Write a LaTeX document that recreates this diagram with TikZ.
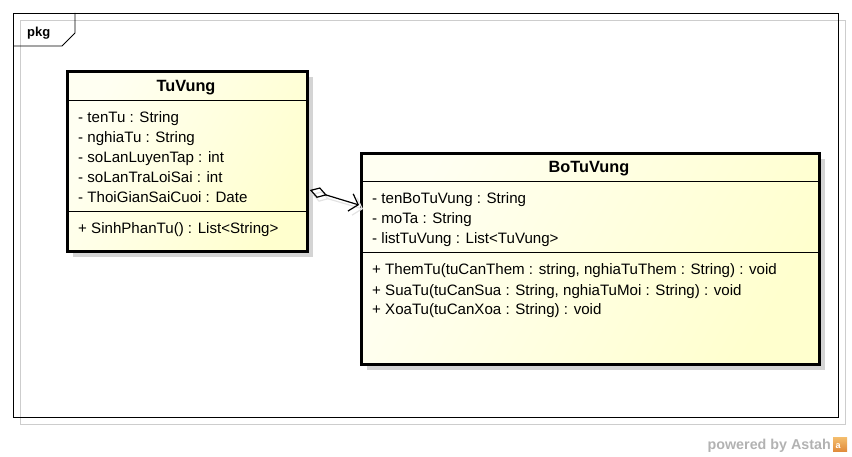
\documentclass[tikz,border=0pt]{standalone}
\usepackage{fontspec}
\setmainfont{Liberation Sans}
\usetikzlibrary{arrows.meta,calc}
\definecolor{shadowgray}{RGB}{212,212,212}
\definecolor{fillA}{RGB}{255,255,242}
\definecolor{fillB}{RGB}{255,255,206}
\definecolor{framegray}{RGB}{205,205,205}
\definecolor{astahgray}{RGB}{178,178,178}
\definecolor{logoA}{RGB}{244,190,110}
\definecolor{logoB}{RGB}{225,140,60}
\begin{document}
\begin{tikzpicture}[x=1pt,y=-1pt,
  clsbox/.style={draw=black,line width=2.8pt,inner sep=0pt,anchor=north west,
    left color=fillA,right color=fillB,shading angle=60},
  shadowbox/.style={fill=shadowgray,draw=none},
  rowtxt/.style={anchor=base west,inner sep=0pt,font=\fontsize{15.1}{17}\selectfont},
  hdrtxt/.style={anchor=base,inner sep=0pt,font=\bfseries\fontsize{16.3}{18}\selectfont},
  sepline/.style={line width=1pt},
  assoc/.style={line width=1.2pt,{Diamond[open,length=18pt,width=11pt,line width=1.2pt]}-{Straight Barb[length=8pt,width=18pt,line width=1.2pt]}}]
\useasboundingbox (0,0) rectangle (852,457);
% frame
\draw[framegray,line width=0.8pt] (20,20) rectangle (845,424);
\draw[black,line width=0.9pt] (13,13) rectangle (838,417);
\draw[black,line width=0.9pt] (13,46) -- (62,46) -- (75,33) -- (75,13);
\node[anchor=base west,inner sep=0pt,font=\bfseries\fontsize{13}{15}\selectfont] (pkg) at (27,37) {pkg};
% shadows
\fill[shadowgray] (73,77) rectangle (313,257);
\fill[shadowgray] (367,159) rectangle (825,370);
% TuVung
\node[clsbox,minimum width=240pt,minimum height=180pt] (tu) at (66,70) {};
\draw[sepline] ([yshift=-31pt]tu.north west) -- ([yshift=-31pt]tu.north east);
\draw[sepline] ([yshift=-142pt]tu.north west) -- ([yshift=-142pt]tu.north east);
\node[hdrtxt] (tuh) at (186,92) {TuVung};
\node[rowtxt] (tua1) at (78,123) {- tenTu : String};
\node[rowtxt] (tua2) at (78,143) {- nghiaTu : String};
\node[rowtxt] (tua3) at (78,163) {- soLanLuyenTap : int};
\node[rowtxt] (tua4) at (78,183) {- soLanTraLoiSai : int};
\node[rowtxt] (tua5) at (78,203) {- ThoiGianSaiCuoi : Date};
\node[rowtxt] (tum1) at (78,234) {+ SinhPhanTu() : List<String>};
% BoTuVung
\node[clsbox,minimum width=458pt,minimum height=211pt] (bo) at (360,152) {};
\draw[sepline] ([yshift=-30pt]bo.north west) -- ([yshift=-30pt]bo.north east);
\draw[sepline] ([yshift=-101pt]bo.north west) -- ([yshift=-101pt]bo.north east);
\node[hdrtxt] (boh) at (589,173) {BoTuVung};
\node[rowtxt] (boa1) at (372,204) {- tenBoTuVung : String};
\node[rowtxt] (boa2) at (372,224) {- moTa : String};
\node[rowtxt] (boa3) at (372,244) {- listTuVung : List<TuVung>};
\node[rowtxt] (bom1) at (372,275) {+ ThemTu(tuCanThem : string, nghiaTuThem : String) : void};
\node[rowtxt] (bom2) at (372,295) {+ SuaTu(tuCanSua : String, nghiaTuMoi : String) : void};
\node[rowtxt] (bom3) at (372,315) {+ XoaTu(tuCanXoa : String) : void};
% association shadow + line
\draw[assoc,gray!22] ([xshift=3pt,yshift=-124pt]tu.north east) -- ([xshift=3pt,yshift=-57pt]bo.north west);
\draw[assoc] ([xshift=1pt,yshift=-120pt]tu.north east) -- ([xshift=-1pt,yshift=-53pt]bo.north west);
% powered by
\node[anchor=base east,inner sep=0pt,text=astahgray,font=\bfseries\fontsize{14.3}{16}\selectfont] (pw) at (831,449) {powered by Astah};
\shade[top color=logoA,bottom color=logoB] (833,437) rectangle (847,451);
\node[inner sep=0pt,text=white,font=\bfseries\fontsize{9}{10}\selectfont] (logo) at (838,446) {a};
\end{tikzpicture}
\end{document}
